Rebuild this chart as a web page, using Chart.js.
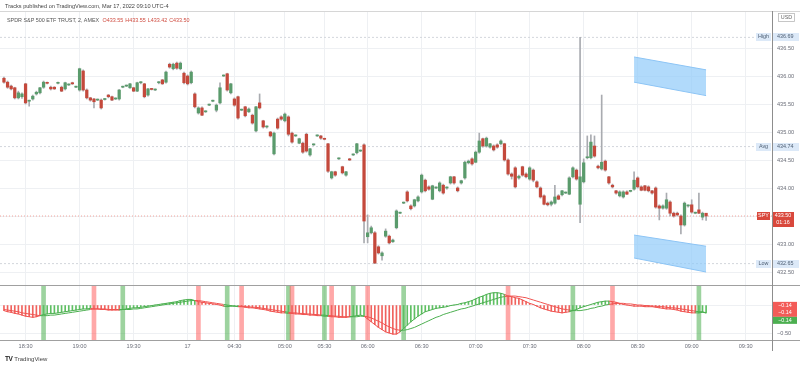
<!DOCTYPE html>
<html>
<head>
<meta charset="utf-8">
<script src="https://cdn.jsdelivr.net/npm/chart.js@4.4.0/dist/chart.umd.min.js"></script>
<style>
  body { margin: 0; width: 800px; height: 368px; overflow: hidden; position: relative; background: #fff; font-family: "Liberation Sans", Arial, sans-serif; }
  #priceChart { position: absolute; left: 0; top: 0; }
  #macdChart { position: absolute; left: 0; top: 286px; }
  .pub { position: absolute; left: 5px; top: 3px; font-size: 5.6px; color: #444; white-space: nowrap; }
  .legend { position: absolute; left: 7px; top: 17px; font-size: 5.4px; color: #555; white-space: nowrap; }
  .legend span { color: #cf4b3f; margin-left: 2px; }
  .axisline { position: absolute; left: 772px; top: 11px; width: 1px; height: 340px; background: #8d8d8d; }
  .sep { position: absolute; left: 0; width: 800px; height: 1px; background: #a0a0a0; }
  .logo { position: absolute; left: 5px; top: 355px; font-size: 6px; color: #444; white-space: nowrap; }
  .logo b { font-size: 6.5px; color: #222; margin-right: 2px; letter-spacing: -0.5px; }
</style>
</head>
<body>
<canvas id="priceChart" width="800" height="286"></canvas>
<canvas id="macdChart" width="800" height="82"></canvas>
<div class="pub">Tracks published on TradingView.com, Mar 17, 2022 09:10 UTC-4</div>
<div class="legend" id="legend">SPDR S&amp;P 500 ETF TRUST, 2, AMEX</div>
<div class="sep" style="top:11px;background:#d6d6d6"></div>
<div class="sep" style="top:285px"></div>
<div class="sep" style="top:340px"></div>
<div class="axisline"></div>
<div class="logo"><b>TV</b>TradingView</div>
<script>
// 2 minute candles, SPY
const opens = [435.96,435.89,435.82,435.79,435.61,435.63,435.86,435.55,435.59,435.68,435.70,435.80,435.88,435.80,435.80,435.87,435.80,435.77,435.84,435.88,
  435.80,435.75,436.09,435.75,435.61,435.59,435.57,435.57,435.58,435.66,435.63,435.59,435.59,435.80,435.82,435.79,435.79,435.73,435.88,435.86,
  435.66,435.77,435.75,435.88,435.93,435.89,436.21,436.13,436.23,436.13,436.05,436.00,435.88,435.68,435.34,435.43,435.36,435.48,435.55,435.39,
  435.52,436.00,436.04,435.70,435.59,435.63,435.39,435.45,435.36,435.30,435.02,435.52,435.20,435.09,435.00,434.61,435.23,435.27,435.20,435.27,
  434.98,434.93,434.80,434.80,434.96,434.59,434.77,434.93,434.93,434.88,434.79,434.18,434.29,434.52,434.38,434.23,434.52,434.59,434.63,434.66,
  434.77,433.13,433.20,433.20,432.95,432.79,433.14,433.14,433.04,433.29,433.55,433.73,433.93,433.68,433.68,433.77,433.93,434.14,434.02,433.80,
  434.00,433.95,434.05,434.00,434.09,434.20,434.00,434.09,434.18,434.45,434.52,434.46,434.64,434.88,434.75,434.73,434.75,434.77,434.79,434.79,
  434.50,434.25,434.36,434.18,434.38,434.25,434.16,434.32,434.11,434.00,433.86,433.73,433.71,433.73,433.86,433.88,433.91,433.89,434.20,434.32,
  433.71,434.11,434.54,434.54,434.75,434.39,434.34,434.48,434.20,434.05,433.95,433.86,433.84,433.93,433.94,433.98,434.18,434.02,434.04,434.02,
  433.95,434.00,433.68,433.64,433.64,433.75,433.55,433.55,433.50,433.34,433.68,433.70,433.55,433.61,433.48,433.55];
const highs = [435.98,435.91,435.84,435.80,435.73,435.70,435.87,435.57,435.66,435.73,435.80,435.91,435.89,435.82,435.81,435.89,435.82,435.89,435.86,435.89,
  435.82,436.14,436.11,435.77,435.62,435.60,435.59,435.59,435.60,435.67,435.64,435.61,435.76,435.82,435.84,435.87,435.80,435.89,435.90,435.87,
  435.78,435.78,435.77,435.90,435.94,436.09,436.23,436.23,436.25,436.25,436.07,436.02,436.09,435.70,435.45,435.45,435.38,435.50,435.57,435.50,
  435.88,436.02,436.05,435.87,435.61,435.64,435.41,435.46,435.43,435.32,435.46,435.68,435.21,435.11,435.01,435.00,435.25,435.29,435.34,435.29,
  435.00,434.95,434.89,434.82,434.98,434.71,434.79,434.95,434.94,434.89,434.80,434.30,434.30,434.54,434.39,434.30,434.53,434.61,434.80,434.68,
  434.79,433.52,433.32,433.22,432.97,432.86,433.27,433.16,433.09,433.61,433.57,433.75,433.95,433.70,433.80,433.86,434.25,434.16,434.04,434.05,
  434.02,434.11,434.07,434.02,434.21,434.21,434.02,434.14,434.48,434.50,434.54,434.66,434.98,434.89,434.91,434.80,434.77,434.79,434.86,434.80,
  434.52,434.27,434.38,434.23,434.39,434.27,434.38,434.34,434.13,434.02,433.88,433.75,433.77,434.05,433.88,433.96,433.93,434.20,434.38,434.34,
  436.69,434.52,434.93,434.95,434.93,434.41,435.66,434.50,434.21,434.07,433.96,433.95,433.95,433.95,433.96,434.29,434.20,434.04,434.05,434.04,
  433.96,434.02,433.70,433.70,433.91,433.77,433.57,433.57,433.52,433.75,433.70,433.79,433.57,433.91,433.57,433.55];
const lows = [435.87,435.78,435.75,435.59,435.59,435.60,435.50,435.46,435.57,435.66,435.68,435.78,435.86,435.75,435.76,435.86,435.72,435.75,435.83,435.85,
  435.79,435.73,435.73,435.59,435.55,435.43,435.56,435.41,435.57,435.61,435.56,435.58,435.57,435.79,435.81,435.78,435.72,435.72,435.86,435.61,
  435.64,435.75,435.74,435.86,435.85,435.87,436.14,436.11,436.12,436.11,435.86,435.84,435.86,435.43,435.32,435.29,435.35,435.47,435.54,435.36,
  435.50,435.99,435.73,435.68,435.46,435.23,435.38,435.27,435.35,435.14,435.00,435.41,435.07,435.07,434.91,434.59,435.05,435.21,435.18,434.93,
  434.80,434.92,434.79,434.62,434.64,434.57,434.76,434.92,434.87,434.86,434.28,434.16,434.21,434.51,434.25,434.21,434.49,434.58,434.61,434.65,
  433.02,433.02,433.18,432.65,432.82,432.71,433.12,433.00,433.03,433.27,433.54,433.72,433.75,433.61,433.66,433.75,433.91,433.93,433.96,433.79,
  433.99,433.93,433.89,433.98,434.07,434.07,433.93,434.07,434.16,434.43,434.41,434.45,434.62,434.73,434.73,434.71,434.66,434.71,434.77,434.48,
  434.23,434.16,434.00,434.16,434.21,434.18,434.14,434.11,434.00,433.82,433.70,433.68,433.68,433.71,433.79,433.86,433.90,433.88,434.18,434.14,
  433.38,434.09,434.52,434.52,434.55,434.34,434.32,434.30,434.07,434.00,433.89,433.84,433.82,433.88,433.93,433.96,434.00,433.95,433.95,433.93,
  433.89,433.64,433.43,433.62,433.62,433.50,433.48,433.50,433.18,433.32,433.66,433.55,433.54,433.54,433.43,433.42];
const closes = [435.89,435.80,435.77,435.61,435.70,435.68,435.52,435.56,435.64,435.71,435.79,435.89,435.87,435.77,435.77,435.88,435.73,435.88,435.85,435.86,
  435.81,436.13,435.75,435.61,435.57,435.54,435.58,435.43,435.59,435.63,435.57,435.60,435.75,435.81,435.83,435.86,435.73,435.88,435.89,435.63,
  435.77,435.76,435.76,435.89,435.86,436.07,436.16,436.21,436.14,436.23,435.88,435.86,436.07,435.45,435.43,435.30,435.37,435.49,435.56,435.48,
  435.79,436.01,435.75,435.86,435.48,435.25,435.40,435.29,435.41,435.16,435.45,435.43,435.09,435.10,434.93,434.98,435.07,435.23,435.32,434.96,
  434.82,434.94,434.88,434.64,434.66,434.70,434.78,434.94,434.89,434.87,434.30,434.29,434.23,434.53,434.27,434.29,434.50,434.60,434.79,434.67,
  433.41,433.20,433.29,432.66,432.84,432.84,433.23,433.02,433.07,433.59,433.56,433.74,433.77,433.63,433.79,433.84,434.23,433.95,433.98,434.04,
  434.01,434.09,433.91,434.01,434.20,434.09,433.95,434.13,434.46,434.48,434.43,434.64,434.84,434.75,434.89,434.79,434.68,434.73,434.84,434.50,
  434.25,434.21,434.02,434.21,434.23,434.20,434.36,434.14,434.02,433.84,433.71,433.70,433.75,433.84,433.80,433.95,433.92,434.18,434.36,434.16,
  434.20,434.45,434.55,434.82,434.57,434.36,434.46,434.32,434.09,434.02,433.91,433.93,433.93,433.89,433.95,434.14,434.02,433.96,433.96,433.95,
  433.91,433.66,433.64,433.68,433.79,433.55,433.50,433.52,433.34,433.73,433.69,433.57,433.56,433.55,433.55,433.50];

// indicator pane
const macdVals = [-0.10,-0.12,-0.13,-0.15,-0.16,-0.18,-0.20,-0.21,-0.22,-0.21,-0.19,-0.17,-0.16,-0.15,-0.15,-0.14,-0.13,-0.12,-0.11,-0.10,
  -0.09,-0.08,-0.07,-0.07,-0.06,-0.07,-0.07,-0.08,-0.08,-0.09,-0.09,-0.09,-0.09,-0.08,-0.07,-0.06,-0.05,-0.05,-0.04,-0.03,
  -0.02,-0.01,0.00,0.01,0.02,0.03,0.04,0.05,0.06,0.08,0.09,0.10,0.10,0.08,0.06,0.05,0.04,0.03,0.02,0.01,
  0.00,-0.02,-0.03,-0.02,-0.02,-0.03,-0.03,-0.04,-0.05,-0.05,-0.06,-0.07,-0.08,-0.09,-0.11,-0.12,-0.13,-0.14,-0.14,-0.15,
  -0.15,-0.16,-0.16,-0.17,-0.17,-0.18,-0.18,-0.19,-0.19,-0.20,-0.20,-0.21,-0.21,-0.22,-0.22,-0.22,-0.21,-0.20,-0.19,-0.18,
  -0.20,-0.25,-0.30,-0.35,-0.40,-0.44,-0.48,-0.50,-0.52,-0.52,-0.48,-0.42,-0.36,-0.30,-0.25,-0.20,-0.16,-0.12,-0.10,-0.08,
  -0.06,-0.05,-0.04,-0.03,-0.01,0.00,0.01,0.03,0.04,0.06,0.08,0.11,0.14,0.16,0.19,0.21,0.22,0.22,0.21,0.19,
  0.16,0.15,0.13,0.12,0.09,0.06,0.03,0.01,-0.02,-0.05,-0.07,-0.09,-0.11,-0.12,-0.13,-0.14,-0.13,-0.12,-0.10,-0.08,
  -0.05,-0.03,-0.01,0.01,0.03,0.05,0.06,0.07,0.07,0.06,0.05,0.03,0.01,0.00,-0.01,-0.02,-0.02,-0.02,-0.03,-0.03,
  -0.03,-0.04,-0.05,-0.06,-0.07,-0.07,-0.08,-0.09,-0.11,-0.12,-0.13,-0.14,-0.14,-0.14,-0.13,-0.14];
const signalVals = [-0.08,-0.09,-0.10,-0.11,-0.12,-0.14,-0.15,-0.16,-0.17,-0.18,-0.19,-0.19,-0.19,-0.18,-0.18,-0.17,-0.16,-0.15,-0.14,-0.13,
  -0.12,-0.11,-0.10,-0.09,-0.08,-0.07,-0.07,-0.07,-0.07,-0.08,-0.08,-0.08,-0.08,-0.08,-0.08,-0.08,-0.07,-0.07,-0.06,-0.05,
  -0.04,-0.03,-0.02,-0.01,0.00,0.01,0.02,0.03,0.04,0.05,0.06,0.07,0.08,0.08,0.08,0.07,0.06,0.05,0.04,0.03,
  0.02,0.01,0.00,-0.01,-0.02,-0.02,-0.02,-0.03,-0.03,-0.04,-0.04,-0.05,-0.06,-0.07,-0.08,-0.09,-0.10,-0.11,-0.12,-0.13,
  -0.14,-0.14,-0.15,-0.15,-0.16,-0.16,-0.17,-0.17,-0.18,-0.18,-0.19,-0.19,-0.20,-0.20,-0.21,-0.21,-0.21,-0.21,-0.21,-0.20,
  -0.20,-0.21,-0.23,-0.26,-0.29,-0.32,-0.36,-0.39,-0.42,-0.44,-0.45,-0.45,-0.44,-0.42,-0.40,-0.37,-0.34,-0.31,-0.28,-0.25,
  -0.22,-0.20,-0.17,-0.15,-0.13,-0.11,-0.09,-0.07,-0.06,-0.04,-0.02,0.00,0.02,0.04,0.06,0.08,0.10,0.12,0.14,0.15,
  0.16,0.16,0.16,0.15,0.14,0.13,0.11,0.09,0.07,0.05,0.03,0.01,-0.01,-0.03,-0.05,-0.07,-0.08,-0.09,-0.10,-0.10,
  -0.10,-0.09,-0.08,-0.06,-0.05,-0.03,-0.02,0.00,0.01,0.02,0.03,0.03,0.03,0.02,0.02,0.01,0.00,0.00,-0.01,-0.01,
  -0.02,-0.02,-0.03,-0.03,-0.04,-0.05,-0.05,-0.06,-0.07,-0.08,-0.09,-0.10,-0.11,-0.12,-0.12,-0.14];
const bullCross = [11, 33, 62, 79, 89, 97, 111, 158, 193];
const bearCross = [25, 54, 66, 80, 91, 101, 140, 169];

// axes
const timeLabels = ["18:30","19:00","19:30","17","04:30","05:00","05:30","06:00","06:30","07:00","07:30","08:00","08:30","09:00","09:30"];
const timeIndex = [6, 21, 36, 51, 64, 78, 89, 101, 116, 131, 146, 161, 176, 191, 206];
const priceTicks = [432.5, 433, 433.5, 434, 434.5, 435, 435.5, 436, 436.5];
const macdTicks = [0, -0.5];

// price levels and drawings
const levelNames = ["High", "Avg", "Low"];
const levelValues = [436.69, 434.74, 432.65];
const channelX = [175, 195];
const upperChannelTop = [436.34, 436.11];
const upperChannelBottom = [435.89, 435.65];
const lowerChannelTop = [433.16, 432.96];
const lowerChannelBottom = [432.75, 432.50];

const xMin = -1.1, xMax = 213.3;
const GREEN = "#5a9b6c", RED = "#c4493c";
const last = closes.length - 1;

document.getElementById("legend").innerHTML += ' <span>O' + opens[last].toFixed(2) + '</span><span>H' + highs[last].toFixed(2) +
  '</span><span>L' + lows[last].toFixed(2) + '</span><span>C' + closes[last].toFixed(2) + '</span>';

const font = { family: '"Liberation Sans", Arial, sans-serif', size: 5.6 };
const gridColor = "#eef0f3";

function bullAt(i) {
  let b = -1, r = -1;
  bullCross.forEach(c => { if (c <= i) b = c; });
  bearCross.forEach(c => { if (c <= i) r = c; });
  return b > r;
}

function lineSet(xs, ys, extra) {
  return Object.assign({
    type: "line",
    data: xs.map((x, k) => ({ x: x, y: ys[k] })),
    pointRadius: 0,
    borderWidth: 1,
    borderColor: "#8cc4f5",
    fill: false
  }, extra);
}

// no extra room for the first and last tick labels
function fixWidth(s) {
  s.width = 28;
  s.paddingTop = 0;
  s.paddingBottom = 0;
}

const candleBodies = opens.map((o, i) => ({ x: i, y: [o, closes[i]] }));
const candleWicks = highs.map((h, i) => ({ x: i, y: [lows[i], h] }));
const bodyColors = opens.map((o, i) => closes[i] >= o ? GREEN : RED);

// boxes on the price scale
const priceBoxes = {
  id: "priceBoxes",
  afterDraw(chart) {
    const ctx = chart.ctx, y = chart.scales.y, r = chart.chartArea.right;
    ctx.save();
    ctx.font = '5.4px "Liberation Sans", Arial';
    ctx.textBaseline = "middle";
    levelNames.forEach((name, k) => {
      const py = Math.round(y.getPixelForValue(levelValues[k]));
      ctx.fillStyle = "#dce9f8";
      ctx.fillRect(r - 16, py - 4, 15, 8);
      ctx.fillRect(r + 1, py - 4, 26, 8);
      ctx.fillStyle = "#4c5d72";
      ctx.textAlign = "center";
      ctx.fillText(name, r - 8.5, py);
      ctx.textAlign = "left";
      ctx.fillText(levelValues[k].toFixed(2), r + 5, py);
    });
    const py = Math.round(y.getPixelForValue(closes[last]));
    ctx.fillStyle = "#d9483c";
    ctx.fillRect(r - 15, py - 4, 13, 8);
    ctx.fillRect(r, py - 4, 22, 15);
    ctx.fillStyle = "#fff";
    ctx.textAlign = "center";
    ctx.fillText("SPY", r - 8.5, py);
    ctx.fillText(closes[last].toFixed(2), r + 11, py);
    ctx.fillText("01:16", r + 11, py + 7);
    // currency
    ctx.strokeStyle = "#b8b8b8";
    ctx.lineWidth = 0.8;
    ctx.strokeRect(r + 6.5, 13.5, 16, 8);
    ctx.fillStyle = "#666";
    ctx.fillText("USD", r + 14.5, 17.6);
    ctx.restore();
  }
};

new Chart(document.getElementById("priceChart"), {
  type: "bar",
  data: {
    datasets: [
      lineSet([xMin, xMax], [closes[last], closes[last]], { borderColor: "#f2a49c", borderDash: [1, 2], order: 5 }),
      lineSet([xMin, xMax], [levelValues[0], levelValues[0]], { borderColor: "#d3d6dc", borderDash: [2, 2], order: 5 }),
      lineSet([xMin, xMax], [levelValues[1], levelValues[1]], { borderColor: "#d3d6dc", borderDash: [2, 2], order: 5 }),
      lineSet([xMin, xMax], [levelValues[2], levelValues[2]], { borderColor: "#d3d6dc", borderDash: [2, 2], order: 5 }),
      lineSet(channelX, upperChannelTop, { order: 4 }),
      lineSet(channelX, upperChannelBottom, { order: 4, fill: "-1", backgroundColor: "rgba(144, 202, 249, 0.7)" }),
      lineSet(channelX, lowerChannelTop, { order: 4 }),
      lineSet(channelX, lowerChannelBottom, { order: 4, fill: "-1", backgroundColor: "rgba(144, 202, 249, 0.7)" }),
      { data: candleWicks, backgroundColor: "#a9abb0", barThickness: 1, grouped: false, order: 3 },
      { data: candleBodies, backgroundColor: bodyColors, barThickness: 2.6, minBarLength: 1, grouped: false, order: 1 }
    ]
  },
  options: {
    responsive: false,
    animation: false,
    layout: { padding: { top: 11, bottom: 1, left: 0, right: 0 } },
    plugins: { legend: { display: false }, tooltip: { enabled: false } },
    scales: {
      x: {
        type: "linear", min: xMin, max: xMax, offset: false,
        afterBuildTicks: s => { s.ticks = timeIndex.map(v => ({ value: v })); },
        afterFit: s => { s.height = 0; s.paddingLeft = 0; s.paddingRight = 0; },
        ticks: { display: false },
        grid: { color: gridColor, drawTicks: false, offset: false },
        border: { display: false }
      },
      y: {
        position: "right", min: 432.268, max: 437.161,
        afterBuildTicks: s => { s.ticks = priceTicks.map(v => ({ value: v })); },
        afterFit: fixWidth,
        ticks: { font: font, color: "#6a6d78", padding: 5, callback: v => v.toFixed(2) },
        grid: { color: gridColor, drawTicks: false },
        border: { display: false }
      }
    }
  },
  plugins: [priceBoxes]
});

// indicator pane
const indMin = -0.625, indMax = 0.34;
const histColors = macdVals.map((v, i) => bullAt(i) ? "#5fbf63" : "#f0625d");
const bands = bullCross.map(i => ({ x: i, y: [indMin, indMax] })).concat(bearCross.map(i => ({ x: i, y: [indMin, indMax] })));
const bandColors = bullCross.map(() => "rgba(76, 175, 80, 0.55)").concat(bearCross.map(() => "rgba(255, 82, 82, 0.5)"));
const stateColor = ctx => bullAt(ctx.p1DataIndex) ? "#4caf50" : "#f05350";

const macdBoxes = {
  id: "macdBoxes",
  afterDraw(chart) {
    const ctx = chart.ctx, y = chart.scales.y, r = chart.chartArea.right;
    const py = y.getPixelForValue(macdVals[last]);
    ctx.save();
    ctx.font = '5.4px "Liberation Sans", Arial';
    ctx.textBaseline = "middle";
    ctx.textAlign = "center";
    ctx.fillStyle = "#f35b57";
    ctx.fillRect(r + 1, py - 11, 24, 15);
    ctx.fillStyle = "#4caf50";
    ctx.fillRect(r + 1, py + 4, 24, 7);
    ctx.fillStyle = "#fff";
    const txt = "\u2212" + Math.abs(macdVals[last]).toFixed(2);
    ctx.fillText(txt, r + 13, py - 7);
    ctx.fillText("\u2212" + Math.abs(signalVals[last]).toFixed(2), r + 13, py);
    ctx.fillText(txt, r + 13, py + 7.5);
    ctx.restore();
  }
};

new Chart(document.getElementById("macdChart"), {
  type: "bar",
  data: {
    datasets: [
      { data: bands, backgroundColor: bandColors, barThickness: 4, grouped: false, order: 4 },
      { data: macdVals.map((v, i) => ({ x: i, y: v })), backgroundColor: histColors, barThickness: 1, grouped: false, order: 3 },
      { type: "line", data: macdVals.map((v, i) => ({ x: i, y: v })), pointRadius: 0, borderWidth: 1, segment: { borderColor: stateColor }, order: 2 },
      { type: "line", data: signalVals.map((v, i) => ({ x: i, y: v })), pointRadius: 0, borderWidth: 1, segment: { borderColor: stateColor }, order: 1 }
    ]
  },
  options: {
    responsive: false,
    animation: false,
    layout: { padding: 0 },
    plugins: { legend: { display: false }, tooltip: { enabled: false } },
    scales: {
      x: {
        type: "linear", min: xMin, max: xMax, offset: false,
        afterBuildTicks: s => { s.ticks = timeIndex.map(v => ({ value: v })); },
        afterFit: s => { s.height = 28; s.paddingLeft = 0; s.paddingRight = 0; },
        ticks: { font: font, color: "#6a6d78", padding: 3, maxRotation: 0, autoSkip: false,
          callback: v => timeLabels[timeIndex.indexOf(v)] },
        grid: { color: gridColor, drawTicks: false, offset: false },
        border: { display: false }
      },
      y: {
        position: "right", min: indMin, max: indMax,
        afterBuildTicks: s => { s.ticks = macdTicks.map(v => ({ value: v })); },
        afterFit: fixWidth,
        ticks: { font: font, color: "#6a6d78", padding: 5, callback: v => v < 0 ? "\u2212" + Math.abs(v).toFixed(2) : "" },
        grid: { color: gridColor, drawTicks: false },
        border: { display: false }
      }
    }
  },
  plugins: [macdBoxes]
});
</script>
</body>
</html>
